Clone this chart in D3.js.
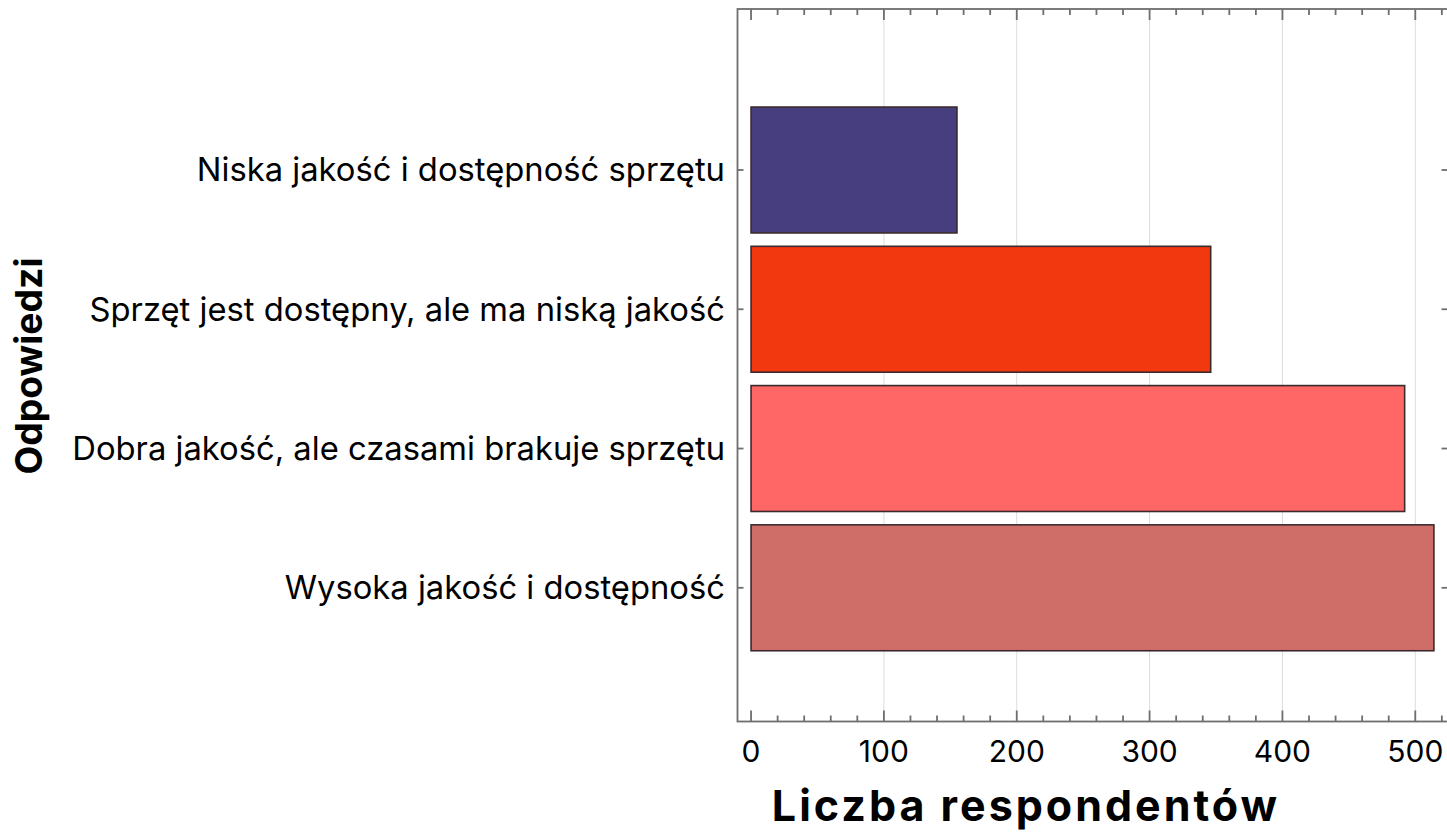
<!DOCTYPE html>
<html>
<head>
<meta charset="utf-8">
<script src="https://cdn.jsdelivr.net/npm/d3@7"></script>
<style>
  html, body { margin: 0; padding: 0; background: #fff; }
  svg { display: block; }
  text { font-family: Inter, "Open Sans", sans-serif; fill: #000; }
</style>
</head>
<body>
<svg id="chart" width="1447" height="833"></svg>
<script>
// ---- data ----
const categories = [
  "Wysoka jakość i dostępność",
  "Dobra jakość, ale czasami brakuje sprzętu",
  "Sprzęt jest dostępny, ale ma niską jakość",
  "Niska jakość i dostępność sprzętu"
];
const values = [514, 492, 346, 155];
const colors = ["#CF6D68", "#FF6666", "#F2380F", "#473E7F"];
const xTicks = [0, 100, 200, 300, 400, 500];
const xTitle = "Liczba respondentów";
const yTitle = "Odpowiedzi";

// ---- layout ----
const frame = { left: 737.5, right: 1448.5, top: 9, bottom: 721.5 };

const svg = d3.select("#chart");

const x = d3.scaleLinear().domain([-10.2, 525]).range([frame.left, frame.right]);
// category index 1..4 (bottom to top)
const y = d3.scaleLinear().domain([0.04, 5.156]).range([frame.bottom, frame.top]);
const halfBar = 0.452;

// grid lines
const gridVals = xTicks.filter(v => v > 0);
svg.append("g").selectAll("line").data(gridVals).join("line")
  .attr("x1", d => x(d)).attr("x2", d => x(d))
  .attr("y1", frame.top).attr("y2", frame.bottom)
  .attr("stroke", "#dcdcdc").attr("stroke-width", 1);

// bars
svg.append("g").selectAll("rect").data(values).join("rect")
  .attr("x", x(0))
  .attr("y", (d, i) => y(i + 1 + halfBar))
  .attr("width", d => x(d) - x(0))
  .attr("height", (d, i) => y(i + 1 - halfBar) - y(i + 1 + halfBar))
  .attr("fill", (d, i) => colors[i])
  .attr("stroke", "#3b2a2e")
  .attr("stroke-width", 1.6);

// frame
svg.append("rect")
  .attr("x", frame.left).attr("y", frame.top)
  .attr("width", frame.right - frame.left).attr("height", frame.bottom - frame.top)
  .attr("fill", "none").attr("stroke", "#6e6e6e").attr("stroke-width", 1.8);

// x ticks (major + minor), inward, top and bottom
const minorVals = d3.range(0, 521, 20).filter(v => v % 100 !== 0);
const tickG = svg.append("g").attr("stroke", "#6e6e6e").attr("stroke-width", 1.8);
function ticks(vals, len) {
  tickG.append("g").selectAll("line").data(vals).join("line")
    .attr("x1", d => x(d)).attr("x2", d => x(d))
    .attr("y1", frame.bottom).attr("y2", frame.bottom - len);
  tickG.append("g").selectAll("line").data(vals).join("line")
    .attr("x1", d => x(d)).attr("x2", d => x(d))
    .attr("y1", frame.top).attr("y2", frame.top + len);
}
ticks(xTicks, 11);
ticks(minorVals, 6);

// y ticks inward, left and right
tickG.append("g").selectAll("line").data(categories).join("line")
  .attr("x1", frame.left).attr("x2", frame.left + 6)
  .attr("y1", (d, i) => y(i + 1)).attr("y2", (d, i) => y(i + 1));
tickG.append("g").selectAll("line").data(categories).join("line")
  .attr("x1", frame.right).attr("x2", frame.right - 7)
  .attr("y1", (d, i) => y(i + 1)).attr("y2", (d, i) => y(i + 1));

// x tick labels
svg.append("g").selectAll("text").data(xTicks).join("text")
  .attr("x", d => x(d)).attr("y", 762)
  .attr("text-anchor", "middle")
  .style("font-size", "30px")
  .text(d => d);

// category labels
const catTexts = svg.append("g").selectAll("text").data(categories).join("text")
  .attr("x", 725)
  .attr("y", (d, i) => y(i + 1))
  .attr("dy", "0.35em")
  .attr("text-anchor", "end")
  .style("font-size", "28px")
  .text(d => d);
(function () {
  const w = catTexts.filter((d, i) => i === 1).node().getComputedTextLength();
  catTexts.style("font-size", (28 * 653 / w) + "px");
})();

// x title
const xt = svg.append("text")
  .attr("x", 1026).attr("y", 821)
  .attr("text-anchor", "middle")
  .style("font-size", "43px").style("font-weight", "700")
  .text(xTitle);
(function () {
  const n = xTitle.length;
  const w = xt.node().getComputedTextLength();
  const ls = Math.min(3, Math.max(0, (542 - w) / n));
  xt.style("letter-spacing", ls + "px");
})();

// y title
const yt = svg.append("text")
  .attr("transform", "translate(42,366) rotate(-90)")
  .attr("text-anchor", "middle")
  .style("font-size", "32px").style("font-weight", "700")
  .text(yTitle);
(function () {
  const w = yt.node().getComputedTextLength();
  yt.style("font-size", (32 * 217 / w) + "px");
})();
</script>
</body>
</html>
